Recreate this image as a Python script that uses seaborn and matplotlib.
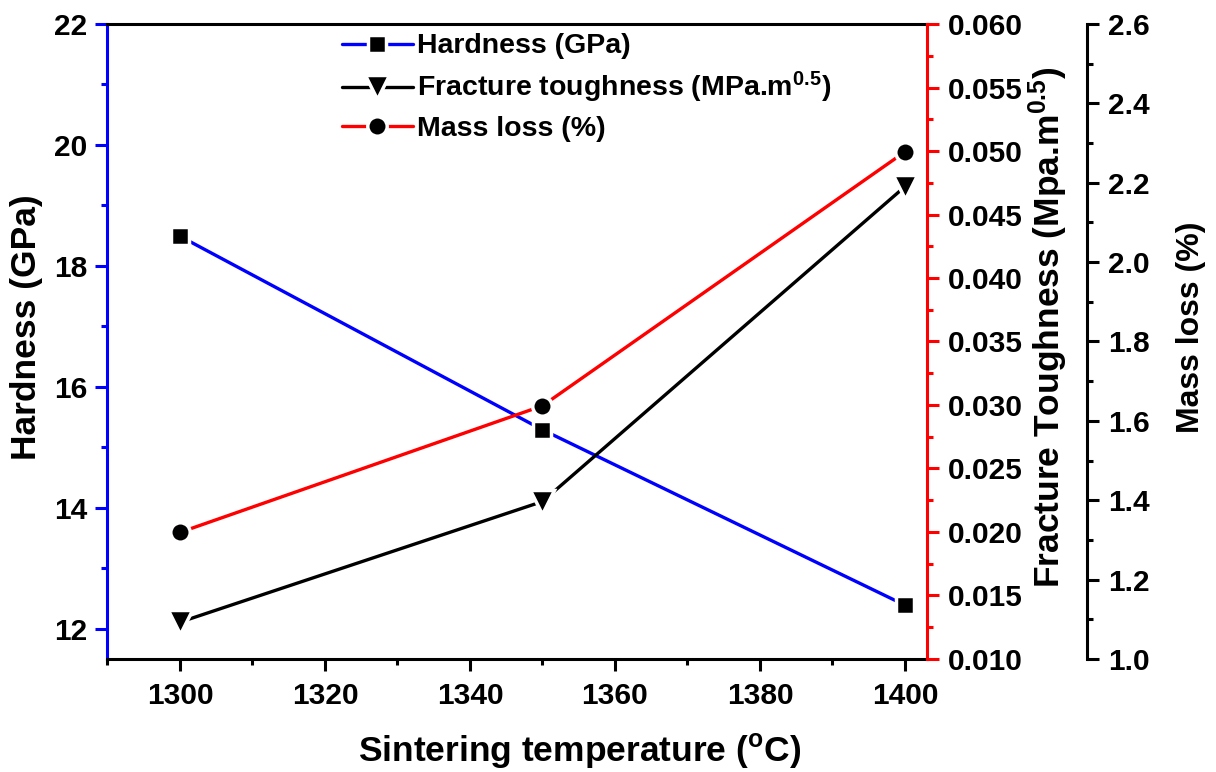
import matplotlib
matplotlib.use("Agg")
import matplotlib.pyplot as plt
import seaborn as sns
import numpy as np
import pandas as pd
from matplotlib.ticker import MultipleLocator, FormatStrFormatter
from matplotlib.lines import Line2D

# ---- data ----
temperature = [1300, 1350, 1400]
hardness = [18.49, 15.29, 12.39]
fracture_toughness = [0.0129, 0.0224, 0.0472]
mass_loss = [1.319, 1.638, 2.278]

series_labels = ["Hardness (GPa)",
                 r"Fracture toughness (MPa.m$^{\mathbf{0.5}}$)",
                 "Mass loss (%)"]

sns.set_theme(style="white")
plt.rcParams['font.family'] = ['Liberation Sans', 'DejaVu Sans']
plt.rcParams['font.weight'] = 'bold'
plt.rcParams['axes.labelweight'] = 'bold'
plt.rcParams['text.color'] = 'black'
plt.rcParams['axes.labelcolor'] = 'black'
plt.rcParams['xtick.color'] = 'black'
plt.rcParams['ytick.color'] = 'black'
plt.rcParams['mathtext.fontset'] = 'custom'
plt.rcParams['mathtext.rm'] = 'Liberation Sans:bold'
plt.rcParams['mathtext.bf'] = 'Liberation Sans:bold'
plt.rcParams['mathtext.it'] = 'Liberation Sans:bold'

fig = plt.figure(figsize=(12.16, 7.72), dpi=100)
ax = fig.add_axes([0.0884, 0.1464, 0.6737, 0.8225])
ax2 = ax.twinx()
ax3 = ax.twinx()

df = pd.DataFrame({"T": temperature, "H": hardness, "F": fracture_toughness, "M": mass_loss})

mk = dict(markerfacecolor='black', markeredgecolor='white', markeredgewidth=2.5, linewidth=2.4)
sizes = {'s': 13.5, 'v': 17, 'o': 14}

sns.lineplot(data=df, x="T", y="H", ax=ax, color='blue', marker='s', markersize=sizes['s'], **mk)
sns.lineplot(data=df, x="T", y="F", ax=ax2, color='black', marker='v', markersize=sizes['v'], **mk)
sns.lineplot(data=df, x="T", y="M", ax=ax3, color='red', marker='o', markersize=sizes['o'], **mk)

ax.set_xlim(1290, 1403)
ax.set_ylim(11.5, 22)
ax2.set_ylim(0.010, 0.060)
ax3.set_ylim(1.0, 2.6)

# spines
lw = 2.2
for a in (ax, ax2, ax3):
    for s in a.spines.values():
        s.set_linewidth(lw)
ax.spines['left'].set_color('blue')
ax.spines['right'].set_visible(False)
ax.spines['top'].set_color('black')
ax.spines['bottom'].set_color('black')
for s in ('left', 'top', 'bottom'):
    ax2.spines[s].set_visible(False)
    ax3.spines[s].set_visible(False)
ax2.spines['right'].set_color('red')
ax3.spines['right'].set_color('black')
ax3.spines['right'].set_position(('axes', 1.1953))

# ticks
ax.xaxis.set_major_locator(MultipleLocator(20))
ax.xaxis.set_minor_locator(MultipleLocator(10))
ax.yaxis.set_major_locator(MultipleLocator(2))
ax.yaxis.set_minor_locator(MultipleLocator(1))
ax2.yaxis.set_major_locator(MultipleLocator(0.005))
ax2.yaxis.set_minor_locator(MultipleLocator(0.0025))
ax2.yaxis.set_major_formatter(FormatStrFormatter('%.3f'))
ax3.yaxis.set_major_locator(MultipleLocator(0.2))
ax3.yaxis.set_minor_locator(MultipleLocator(0.1))
ax3.yaxis.set_major_formatter(FormatStrFormatter('%.1f'))

tk = dict(direction='out', labelsize=21.5, width=lw)
ax.tick_params(axis='x', which='both', bottom=True, top=False, color='black', labelcolor='black', pad=8, **tk)
ax.tick_params(axis='x', which='major', length=8.5)
ax.tick_params(axis='x', which='minor', length=4.3)
ax.tick_params(axis='y', which='both', left=True, right=False, color='blue', labelcolor='black', pad=6, **tk)
ax.tick_params(axis='y', which='major', length=8.5)
ax.tick_params(axis='y', which='minor', length=4.3)
ax2.tick_params(axis='y', which='both', right=True, color='red', labelcolor='black', pad=7, **tk)
ax2.tick_params(axis='y', which='major', length=8.5)
ax2.tick_params(axis='y', which='minor', length=4.3)
ax3.tick_params(axis='y', which='both', right=True, color='black', labelcolor='black', pad=7, **tk)
ax3.tick_params(axis='y', which='major', length=8.5)
ax3.tick_params(axis='y', which='minor', length=4.3)
for a in (ax, ax2, ax3):
    for lab in a.get_xticklabels() + a.get_yticklabels():
        lab.set_fontweight('bold')

ax.set_xlabel(r"Sintering temperature ($^{\mathbf{o}}$C)", fontsize=25.5, fontweight='bold', labelpad=16)
ax.set_ylabel("Hardness (GPa)", fontsize=25.5, fontweight='bold', labelpad=8)
ax2.set_ylabel(r"Fracture Toughness (Mpa.m$^{\mathbf{0.5}}$)", fontsize=25.5, fontweight='bold', labelpad=2.5)
ax3.set_ylabel("Mass loss (%)", fontsize=23, fontweight='bold', labelpad=19)
ax.xaxis.label.set_x(0.576)
ax.yaxis.label.set_y(0.522)
ax2.yaxis.label.set_y(0.522)
ax3.yaxis.label.set_y(0.522)

# legend
handles = [
    Line2D([], [], color='blue', marker='s', markersize=sizes['s'], **mk),
    Line2D([], [], color='black', marker='v', markersize=sizes['v'], **mk),
    Line2D([], [], color='red', marker='o', markersize=sizes['o'], **mk),
]
leg = ax3.legend(handles, series_labels, loc='upper left', bbox_to_anchor=(0.265, 1.012),
                 frameon=False, fontsize=20.5, handlelength=2.5, handletextpad=0.15,
                 labelspacing=0.38, borderaxespad=0.2)
for t in leg.get_texts():
    t.set_fontweight('bold')

fig.savefig("out.png", dpi=100)
